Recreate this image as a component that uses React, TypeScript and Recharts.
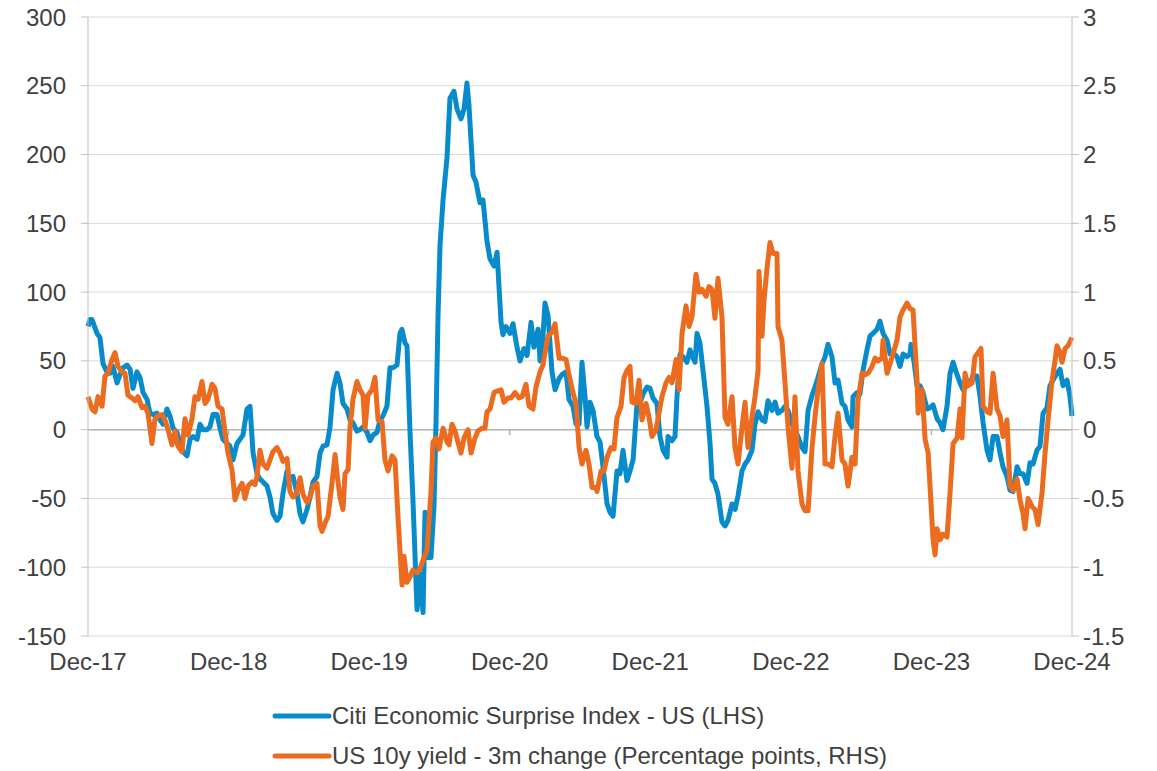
import { LineChart, Line, XAxis, YAxis, CartesianGrid, ReferenceLine } from "recharts";

// months since Dec-17
const cesiPoints: [number, number][] = [
	[0, 75], [0.17, 80], [0.34, 80], [0.77, 70], [1.02, 67], [1.28, 48], [1.62, 42], [1.88, 41], [2.13, 46], [2.48, 34],
	[2.73, 40], [2.99, 45], [3.33, 47], [3.59, 44], [3.84, 30], [4.18, 42], [4.44, 38], [4.7, 27], [5.04, 22], [5.29, 12],
	[5.55, 11], [5.89, 12], [6.15, 7], [6.4, 4], [6.74, 15], [7, 10], [7.26, 1], [7.6, -2], [7.85, -10], [8.11, -16],
	[8.45, -19], [8.71, -7], [8.96, -5], [9.31, -7], [9.56, 4], [9.82, 0], [10.16, 0], [10.41, 2], [10.67, 11], [11.01, 11],
	[11.27, 1], [11.52, -7], [11.87, -10], [12.12, -12], [12.38, -22], [12.72, -10], [12.98, -7], [13.23, -4], [13.57, 15], [13.83, 17],
	[14.09, -17], [14.43, -32], [14.68, -36], [14.94, -38], [15.28, -41], [15.54, -49], [15.79, -61], [16.13, -66], [16.39, -63], [16.65, -46],
	[16.99, -30], [17.24, -36], [17.5, -34], [17.84, -46], [18.1, -61], [18.35, -67], [18.7, -58], [18.95, -49], [19.21, -38], [19.55, -34],
	[19.81, -17], [20.06, -12], [20.4, -11], [20.66, 2], [20.92, 29], [21.26, 41], [21.51, 34], [21.77, 19], [22.11, 15], [22.37, 7],
	[22.62, 5], [22.96, -1], [23.22, 0], [23.48, 2], [23.82, -2], [24.07, -8], [24.33, -4], [24.67, -2], [24.93, 7], [25.18, 10],
	[25.52, 17], [25.78, 45], [26.04, 45], [26.38, 47], [26.63, 70], [26.8, 73], [27.06, 63], [27.23, 61], [27.49, -2], [27.74, -51],
	[28.09, -131], [28.34, -105], [28.6, -133], [28.77, -60], [29.02, -93], [29.28, -93], [29.54, -55], [29.71, 6], [29.88, 83], [30.05, 134],
	[30.31, 167], [30.65, 198], [30.9, 241], [31.24, 246], [31.5, 233], [31.84, 226], [32.1, 233], [32.35, 252], [32.52, 236], [32.87, 185],
	[33.12, 180], [33.46, 165], [33.72, 167], [34.06, 137], [34.32, 124], [34.66, 119], [34.92, 129], [35.26, 78], [35.43, 69], [35.68, 75],
	[36.03, 70], [36.28, 77], [36.62, 60], [36.88, 50], [37.22, 59], [37.48, 54], [37.82, 78], [38.07, 60], [38.42, 73], [38.59, 50],
	[38.84, 68], [39.01, 92], [39.27, 83], [39.61, 42], [39.87, 29], [40.21, 37], [40.46, 40], [40.81, 42], [41.06, 22], [41.4, 17],
	[41.66, 4], [41.92, 4], [42.17, 49], [42.43, 24], [42.6, 2], [42.85, 20], [43.11, 14], [43.45, -5], [43.71, -9], [43.96, -27],
	[44.31, -54], [44.56, -60], [44.82, -63], [45.16, -30], [45.41, -32], [45.67, -15], [46.01, -37], [46.27, -30], [46.53, -22], [46.87, 19],
	[47.12, 19], [47.38, 26], [47.72, 31], [47.98, 30], [48.23, 23], [48.57, 19], [48.83, -5], [49.09, -15], [49.43, -20], [49.51, -5],
	[49.86, -8], [50.11, -5], [50.28, 24], [50.54, 55], [50.79, 53], [51.13, 49], [51.39, 58], [51.65, 52], [51.82, 49], [51.99, 70],
	[52.24, 63], [52.5, 43], [52.84, 17], [53.1, -10], [53.27, -36], [53.52, -39], [53.78, -47], [54.12, -67], [54.38, -70], [54.63, -66],
	[54.98, -54], [55.23, -58], [55.49, -48], [55.83, -30], [56.09, -25], [56.34, -22], [56.68, -15], [56.94, 4], [57.2, 13], [57.54, 7],
	[57.79, 6], [58.05, 21], [58.39, 14], [58.65, 20], [58.9, 12], [59.24, 14], [59.5, 17], [59.76, 14], [60.1, 4], [60.35, 0],
	[60.61, -5], [60.95, -13], [61.21, -16], [61.47, 14], [61.81, 25], [62.06, 31], [62.32, 38], [62.66, 48], [62.92, 53], [63.17, 62],
	[63.51, 53], [63.77, 34], [64.03, 36], [64.37, 19], [64.62, 17], [64.88, 7], [65.22, 2], [65.31, 24], [65.65, 27], [65.9, 26],
	[66.16, 43], [66.5, 58], [66.76, 68], [67.01, 70], [67.36, 73], [67.61, 79], [67.87, 70], [68.21, 65], [68.47, 55], [68.72, 56],
	[69.06, 53], [69.32, 46], [69.58, 55], [69.92, 53], [70.17, 55], [70.26, 62], [70.52, 49], [70.77, 32], [71.03, 32], [71.28, 27],
	[71.63, 15], [71.88, 16], [72.14, 18], [72.48, 8], [72.74, 5], [72.99, 0], [73.33, 17], [73.59, 41], [73.85, 49], [74.19, 40],
	[74.44, 34], [74.7, 29], [75.04, 32], [75.3, 34], [75.55, 39], [75.89, 39], [76.15, 24], [76.41, 5], [76.75, -15], [77, -22],
	[77.26, -5], [77.6, -5], [77.86, -17], [78.11, -27], [78.45, -34], [78.71, -44], [78.96, -45], [79.31, -27], [79.56, -32], [79.82, -32],
	[80.16, -39], [80.42, -24], [80.67, -25], [81.01, -15], [81.27, -12], [81.53, 12], [81.87, 16], [82.12, 32], [82.38, 36], [82.72, 41],
	[82.98, 44], [83.23, 32], [83.58, 36], [83.83, 24], [84, 10],
];

const yieldPoints: [number, number][] = [
	[0, 0.24], [0.34, 0.15], [0.6, 0.13], [0.85, 0.24], [1.2, 0.17], [1.45, 0.39], [1.71, 0.41], [2.05, 0.51], [2.3, 0.56], [2.56, 0.46],
	[2.9, 0.42], [3.16, 0.41], [3.41, 0.25], [3.76, 0.23], [4.01, 0.21], [4.27, 0.24], [4.61, 0.16], [4.87, 0.17], [5.12, 0.12], [5.46, -0.1],
	[5.72, 0.08], [5.98, 0.1], [6.32, 0.11], [6.57, 0.07], [6.83, 0], [7.17, -0.11], [7.43, -0.01], [7.68, -0.12], [8.02, -0.16], [8.28, 0.08],
	[8.54, -0.04], [8.88, 0.08], [9.13, 0.24], [9.39, 0.22], [9.73, 0.35], [9.99, 0.19], [10.24, 0.22], [10.59, 0.33], [10.84, 0.3], [11.1, 0.17],
	[11.44, 0.15], [11.7, -0.02], [11.95, -0.17], [12.29, -0.29], [12.55, -0.51], [12.81, -0.44], [13.15, -0.39], [13.4, -0.5], [13.66, -0.41], [14, -0.38],
	[14.26, -0.4], [14.43, -0.34], [14.68, -0.15], [14.94, -0.25], [15.28, -0.28], [15.54, -0.22], [15.79, -0.16], [16.13, -0.13], [16.39, -0.17], [16.65, -0.23],
	[16.99, -0.21], [17.24, -0.45], [17.5, -0.49], [17.84, -0.46], [18.1, -0.35], [18.35, -0.47], [18.7, -0.53], [18.95, -0.49], [19.21, -0.41], [19.55, -0.39],
	[19.81, -0.7], [19.98, -0.74], [20.23, -0.68], [20.49, -0.63], [20.83, -0.39], [21.09, -0.18], [21.26, -0.32], [21.51, -0.49], [21.77, -0.58], [21.94, -0.32],
	[22.2, -0.29], [22.37, 0.02], [22.62, 0.22], [22.96, 0.35], [23.22, 0.29], [23.48, 0.25], [23.65, 0.01], [23.9, 0.25], [24.24, 0.29], [24.5, 0.38],
	[24.76, 0.07], [25.1, 0.06], [25.35, -0.22], [25.61, -0.3], [25.95, -0.19], [26.21, -0.22], [26.46, -0.63], [26.81, -1.13], [26.98, -0.92], [27.23, -1.11],
	[27.49, -1.07], [27.74, -1.02], [28.09, -1.04], [28.34, -1.01], [28.68, -0.93], [28.94, -0.88], [29.28, -0.45], [29.45, -0.09], [29.71, -0.06], [29.96, -0.14],
	[30.31, 0.01], [30.65, -0.09], [30.82, -0.11], [31.07, 0.04], [31.33, -0.01], [31.84, -0.17], [32.1, -0.06], [32.44, 0], [32.7, -0.17], [33.04, -0.06],
	[33.29, -0.01], [33.64, 0.01], [33.89, 0.01], [34.06, 0.13], [34.32, 0.15], [34.66, 0.27], [34.92, 0.28], [35.26, 0.29], [35.51, 0.2], [35.85, 0.23],
	[36.11, 0.23], [36.45, 0.27], [36.79, 0.23], [37.05, 0.24], [37.39, 0.33], [37.65, 0.17], [37.99, 0.15], [38.24, 0.31], [38.59, 0.42], [38.84, 0.47],
	[39.01, 0.56], [39.27, 0.68], [39.61, 0.71], [39.87, 0.77], [40.21, 0.52], [40.46, 0.52], [40.81, 0.51], [41.06, 0.4], [41.4, 0.27], [41.66, 0.19],
	[41.92, -0.13], [42.17, -0.25], [42.51, -0.15], [42.77, -0.25], [43.03, -0.42], [43.37, -0.42], [43.45, -0.45], [43.8, -0.3], [44.05, -0.3], [44.31, -0.2],
	[44.65, -0.13], [44.9, -0.14], [45.16, 0.09], [45.5, 0.17], [45.76, 0.38], [46.01, 0.43], [46.27, 0.46], [46.44, 0.2], [46.78, 0.19], [47.04, 0.36],
	[47.29, 0.07], [47.63, 0.19], [47.89, 0.09], [48.15, -0.05], [48.49, 0], [48.74, 0.12], [49, 0.24], [49.34, 0.34], [49.6, 0.38], [49.85, 0.34],
	[50.2, 0.51], [50.45, 0.29], [50.71, 0.7], [51.05, 0.9], [51.31, 0.75], [51.56, 0.82], [51.9, 1.13], [52.16, 1], [52.42, 1.02], [52.76, 0.97],
	[53.01, 1.04], [53.27, 1.02], [53.52, 0.81], [53.78, 1.1], [54.12, 0.82], [54.38, 0.09], [54.63, 0.04], [54.98, 0.24], [55.23, -0.13], [55.49, -0.25],
	[55.83, 0.02], [56.09, 0.2], [56.34, -0.13], [56.68, 0.09], [56.94, 0.24], [57.2, 0.43], [57.28, 1.15], [57.54, 0.68], [57.71, 0.94], [57.96, 1.17],
	[58.22, 1.36], [58.48, 1.28], [58.82, 1.28], [58.9, 0.75], [59.24, 0.65], [59.5, 0.34], [59.76, 0.02], [60.1, -0.28], [60.35, 0.24], [60.61, -0.3],
	[60.95, -0.54], [61.21, -0.59], [61.47, -0.59], [61.81, -0.13], [62.06, 0.09], [62.32, 0.29], [62.66, 0.48], [62.92, -0.25], [63.17, -0.25], [63.51, -0.27],
	[63.77, -0.05], [64.03, 0.12], [64.37, -0.22], [64.62, -0.25], [64.88, -0.41], [65.22, -0.2], [65.48, -0.25], [65.73, 0.21], [66.08, 0.41], [66.33, 0.4],
	[66.59, 0.41], [66.93, 0.46], [67.19, 0.52], [67.44, 0.5], [67.78, 0.52], [67.87, 0.65], [68.21, 0.41], [68.47, 0.48], [68.72, 0.55], [69.06, 0.65],
	[69.32, 0.82], [69.58, 0.87], [69.92, 0.92], [70.17, 0.88], [70.43, 0.87], [70.77, 0.36], [70.86, 0.12], [71.2, 0.29], [71.46, -0.07], [71.72, -0.17],
	[71.88, -0.41], [72.14, -0.8], [72.31, -0.91], [72.48, -0.72], [72.74, -0.8], [72.99, -0.76], [73.33, -0.78], [73.59, -0.46], [73.85, -0.1], [74.19, -0.06],
	[74.44, 0.15], [74.61, -0.06], [74.87, 0.41], [75.12, 0.32], [75.47, 0.34], [75.72, 0.53], [75.98, 0.56], [76.23, 0.59], [76.41, 0.17], [76.75, 0.13],
	[77, 0.12], [77.26, 0.41], [77.6, 0.15], [77.86, 0.1], [78.11, -0.05], [78.45, 0.07], [78.71, -0.41], [78.96, -0.44], [79.31, -0.36], [79.56, -0.51],
	[79.82, -0.61], [79.99, -0.72], [80.25, -0.5], [80.59, -0.56], [80.84, -0.58], [81.1, -0.69], [81.44, -0.46], [81.7, -0.17], [81.96, 0.07], [82.3, 0.36],
	[82.55, 0.5], [82.72, 0.61], [82.98, 0.56], [83.15, 0.49], [83.41, 0.59], [83.66, 0.61], [84, 0.67],
];

const yearTicks = [0, 12, 24, 36, 48, 60, 72, 84];
const yearLabels = ["Dec-17", "Dec-18", "Dec-19", "Dec-20", "Dec-21", "Dec-22", "Dec-23", "Dec-24"];
const leftTicks = [-150, -100, -50, 0, 50, 100, 150, 200, 250, 300];
const rightTicks = [-1.5, -1, -0.5, 0, 0.5, 1, 1.5, 2, 2.5, 3];

const seriesNames = ["Citi Economic Surprise Index - US (LHS)", "US 10y yield - 3m change (Percentage points, RHS)"];

const BLUE = "#078bcb";
const ORANGE = "#eb6b1f";
const FONT = "'Liberation Sans', Arial, sans-serif";
const TEXT = "#404040";
const AXIS = "#bfbfbf";

const cesiData = cesiPoints.map(([m, v]) => ({ m, cesi: v }));
const yieldData = yieldPoints.map(([m, v]) => ({ m, yld: v }));

const App = () => {
	const tickStyle = { fill: TEXT, fontSize: 24, fontFamily: FONT };
	return (
		<div style={{ position: "absolute", left: 0, top: 0, width: 1157, height: 771, background: "#fff" }}>
			<LineChart width={1157} height={690} margin={{ top: 17, right: 0, left: 0, bottom: 0 }}>
				<CartesianGrid vertical={false} stroke="#d9d9d9" yAxisId="left" />
				<XAxis
					type="number"
					dataKey="m"
					domain={[0, 84]}
					ticks={yearTicks}
					interval={0}
					tickFormatter={(v: number) => yearLabels[yearTicks.indexOf(v)]}
					axisLine={false}
					tickLine={false}
					tickSize={8}
					tickMargin={9}
					height={54}
					tick={tickStyle}
				/>
				<YAxis
					yAxisId="left"
					orientation="left"
					width={88}
					domain={[-150, 300]}
					ticks={leftTicks}
					interval={0}
					axisLine={{ stroke: AXIS }}
					tickLine={{ stroke: AXIS }}
					tickSize={7}
					tickMargin={15}
					tick={tickStyle}
				/>
				<YAxis
					yAxisId="right"
					orientation="right"
					width={85}
					domain={[-1.5, 3]}
					ticks={rightTicks}
					interval={0}
					axisLine={{ stroke: AXIS }}
					tickLine={{ stroke: AXIS }}
					tickSize={7}
					tickMargin={4}
					tick={tickStyle}
				/>
				<ReferenceLine yAxisId="left" y={0} stroke="#b3b3b3" strokeWidth={1.5} />
				{yearTicks.slice(1, -1).map((t) => (
					<ReferenceLine
						key={t}
						yAxisId="left"
						segment={[
							{ x: t, y: 0 },
							{ x: t, y: -4 },
						]}
						stroke="#b3b3b3"
						strokeWidth={1.5}
					/>
				))}
				<Line
					yAxisId="left"
					data={cesiData}
					dataKey="cesi"
					type="linear"
					stroke={BLUE}
					strokeWidth={5}
					dot={false}
					strokeLinejoin="round"
					isAnimationActive={false}
				/>
				<Line
					yAxisId="right"
					data={yieldData}
					dataKey="yld"
					type="linear"
					stroke={ORANGE}
					strokeWidth={5}
					dot={false}
					strokeLinejoin="round"
					isAnimationActive={false}
				/>
			</LineChart>
			{[BLUE, ORANGE].map((c, i) => (
				<div
					key={c}
					style={{
						position: "absolute",
						left: 272,
						top: 700 + i * 40,
						height: 32,
						display: "flex",
						alignItems: "center",
						fontFamily: FONT,
						fontSize: 24,
						color: TEXT,
						whiteSpace: "nowrap",
					}}
				>
					<svg width={60} height={10} style={{ display: "block" }}>
						<line x1={3} y1={5} x2={57} y2={5} stroke={c} strokeWidth={5} strokeLinecap="round" />
					</svg>
					<span>{seriesNames[i]}</span>
				</div>
			))}
		</div>
	);
};

export default App;
